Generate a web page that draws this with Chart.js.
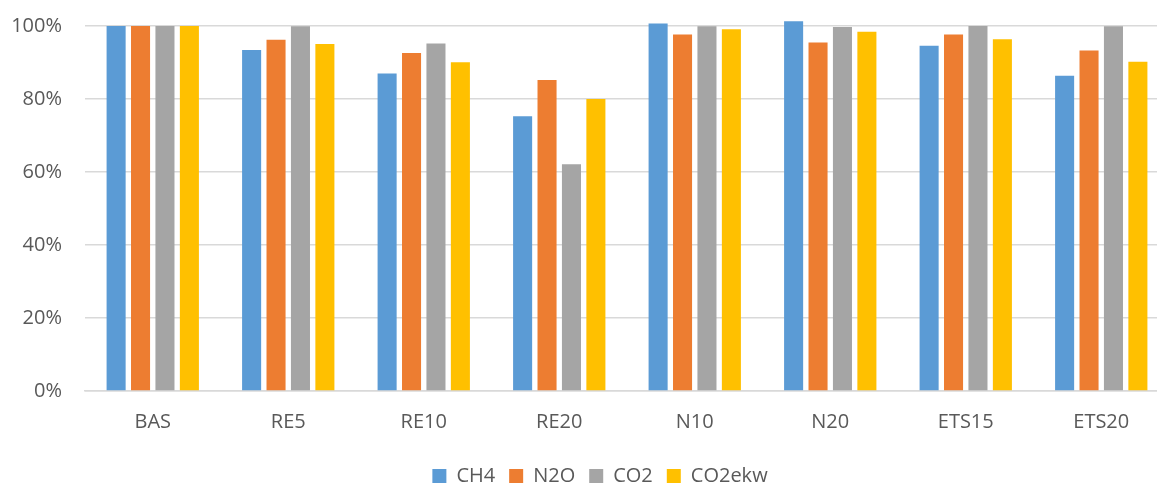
<!DOCTYPE html>
<html>
<head>
<meta charset="utf-8">
<script src="https://cdn.jsdelivr.net/npm/chart.js@4/dist/chart.umd.min.js"></script>
<style>
  html, body { margin: 0; padding: 0; background: #ffffff; overflow: hidden; }
  #wrap { width: 1200px; height: 484px; }
</style>
</head>
<body>
<div id="wrap"><canvas id="c" width="1200" height="484"></canvas></div>
<script>
// Scenarios on the category axis
const categories = ['BAS', 'RE5', 'RE10', 'RE20', 'N10', 'N20', 'ETS15', 'ETS20'];

// Emissions relative to the base scenario, in percent
const ch4    = [100, 93.4, 87.0, 75.3, 100.7, 101.3, 94.6, 86.4];
const n2o    = [100, 96.2, 92.6, 85.2, 97.7, 95.5, 97.7, 93.3];
const co2    = [100, 99.9, 95.2, 62.1, 99.9, 99.7, 100, 99.9];
const co2ekw = [100, 95.1, 90.1, 80.0, 99.1, 98.4, 96.4, 90.2];

// Value-axis tick labels
const yTicks = [0, 20, 40, 60, 80, 100];

const seriesNames = ['CH4', 'N2O', 'CO2', 'CO2ekw'];
const seriesColors = ['#5B9BD5', '#ED7D31', '#A5A5A5', '#FFC000'];
const seriesValues = [ch4, n2o, co2, co2ekw];

Chart.defaults.font.family = '"Open Sans", "Liberation Sans", sans-serif';
Chart.defaults.font.size = 20;
Chart.defaults.color = '#595959';

// Center the legend on the whole canvas rather than the padded box
const centerLegend = {
  id: 'centerLegend',
  afterLayout(chart) {
    const lg = chart.legend;
    if (!lg) return;
    const w = lg.width;
    lg.left = (chart.width - w) / 2;
    lg.right = lg.left + w;
  }
};

new Chart(document.getElementById('c'), {
  type: 'bar',
  data: {
    labels: categories,
    datasets: seriesNames.map((name, i) => ({
      label: name,
      data: seriesValues[i],
      backgroundColor: seriesColors[i],
      borderWidth: 0,
      clip: false,
      categoryPercentage: 0.721,
      barPercentage: 0.78
    }))
  },
  plugins: [centerLegend],
  options: {
    responsive: false,
    animation: false,
    layout: { padding: { left: 10, right: 31, top: 26, bottom: -12 } },
    scales: {
      x: {
        afterFit(scale) { scale.height = 61; },
        grid: { display: false, drawTicks: false },
        border: { display: true, color: '#d9d9d9', width: 1.5 },
        ticks: { padding: 19, font: { size: 20 }, color: '#595959' }
      },
      y: {
        min: 0,
        max: 100,
        afterBuildTicks(scale) {
          scale.ticks = yTicks.map(v => ({ value: v }));
        },
        afterFit(scale) { scale.width = 75; },
        grid: {
          color: '#d9d9d9',
          lineWidth: 1.5,
          drawTicks: true,
          tickLength: 23,
          tickColor: 'rgba(0,0,0,0)'
        },
        border: { display: false },
        ticks: {
          padding: 0,
          font: { size: 20 },
          color: '#595959',
          callback: v => v + '%'
        }
      }
    },
    plugins: {
      legend: {
        position: 'bottom',
        labels: {
          boxWidth: 14,
          boxHeight: 14,
          padding: 14,
          font: { size: 20 },
          color: '#595959'
        }
      },
      tooltip: { enabled: false }
    }
  }
});
</script>
</body>
</html>
